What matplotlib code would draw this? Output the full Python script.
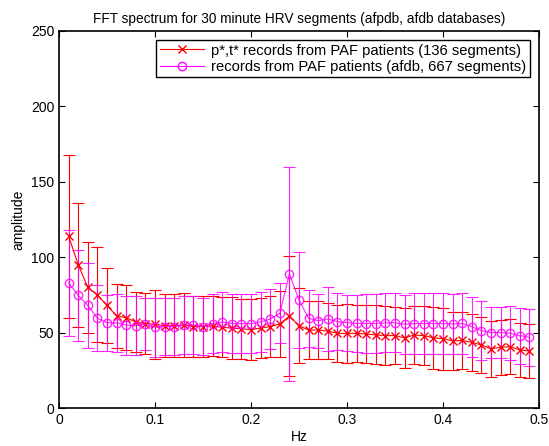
import numpy as np
import matplotlib
matplotlib.use('Agg')
import matplotlib.pyplot as plt
from matplotlib.lines import Line2D

plt.rcParams['font.family'] = ['Liberation Sans', 'DejaVu Sans']

freq = [0.01, 0.02, 0.03, 0.04, 0.05, 0.06, 0.07, 0.08, 0.09, 0.10,
        0.11, 0.12, 0.13, 0.14, 0.15, 0.16, 0.17, 0.18, 0.19, 0.20,
        0.21, 0.22, 0.23, 0.24, 0.25, 0.26, 0.27, 0.28, 0.29, 0.30,
        0.31, 0.32, 0.33, 0.34, 0.35, 0.36, 0.37, 0.38, 0.39, 0.40,
        0.41, 0.42, 0.43, 0.44, 0.45, 0.46, 0.47, 0.48, 0.49]

# p*,t* records (afpdb)
paf_mean = [114, 95, 80, 75, 68, 61, 60, 57, 56, 55.5,
            54.5, 54.5, 55, 54, 54, 54.5, 53.5, 53, 52.5, 52,
            53, 54, 55.7, 61, 54.6, 51.7, 51.7, 51, 49.5, 49.5,
            49.5, 49, 48.5, 48, 48, 46.5, 48.4, 48, 46.5, 46,
            44.5, 44.8, 43.5, 41.8, 39.3, 40.2, 40.7, 38.5, 37.8]
paf_err = [54, 41, 30, 31.5, 24.6, 21.4, 21.7, 20, 20, 22.8,
           21, 21, 21, 20, 20, 20, 20, 20.5, 20, 20,
           20, 20, 22, 40, 25, 19.5, 19, 18.5, 19, 19.5,
           19, 19, 19.5, 19.5, 19, 20, 19.5, 19.5, 20.5, 20.5,
           19, 19, 19, 18.5, 18.5, 18, 18, 18, 18]

# afdb records
afdb_mean = [83, 74.7, 68, 59.5, 56.6, 56.4, 55, 54.6, 55.7, 53.5,
             54, 54, 55, 55, 54, 56, 57, 56, 56, 56,
             57, 59, 62.8, 88.9, 71.6, 59.5, 57.9, 59, 57.2, 56.6,
             56.1, 56, 56, 56.5, 56.5, 55.5, 56, 56, 56, 56,
             55.7, 56.1, 53.9, 51.3, 50, 50, 49.5, 48, 46.9]
afdb_err = [35, 30, 28, 22, 18.5, 19, 19.6, 19.6, 17, 19.5,
            19, 19, 19.5, 19, 19, 19.5, 20, 19.5, 19.5, 19.5,
            20, 20, 20, 71, 32, 19, 18, 21, 19, 18.5,
            19, 19.5, 19.5, 19.5, 19.5, 19.5, 20, 20, 20, 20,
            20, 20, 20, 19.5, 17, 17, 18, 18.5, 19]

labels = ['p*,t* records from PAF patients (136 segments)',
          'records from PAF patients (afdb, 667 segments)']

fig = plt.figure(figsize=(5.49, 4.46), dpi=100)
ax = fig.add_axes([0.1075, 0.0852, 0.8743, 0.8453])

ax.errorbar(freq, paf_mean, yerr=paf_err, color='#ff0000', marker='x',
            markersize=5.5, linewidth=0.8, elinewidth=0.8, capsize=4,
            capthick=0.8)
ax.errorbar(freq, afdb_mean, yerr=afdb_err, color='#ff00ff', marker='o',
            markersize=6, markerfacecolor='none', linewidth=0.8,
            elinewidth=0.8, capsize=4, capthick=0.8, alpha=0.85)

ax.set_xlim(0, 0.5)
ax.set_ylim(0, 250)
ax.set_xticks([0, 0.1, 0.2, 0.3, 0.4, 0.5])
ax.set_xticklabels(['0', '0.1', '0.2', '0.3', '0.4', '0.5'])
ax.set_yticks([0, 50, 100, 150, 200, 250])
ax.tick_params(direction='in', top=True, right=True, labelsize=10, length=4)
for s in ax.spines.values():
    s.set_linewidth(1.2)

ax.set_xlabel('Hz', fontsize=10, labelpad=2)
ax.set_ylabel('amplitude', fontsize=10)
ax.set_title('FFT spectrum for 30 minute HRV segments (afpdb, afdb databases)',
             fontsize=9.8, pad=6)

handles = [Line2D([], [], color='#ff0000', marker='x', markersize=5.5, linewidth=0.8),
           Line2D([], [], color='#ff00ff', marker='o', markersize=6,
                  markerfacecolor='none', linewidth=0.8)]
leg = ax.legend(handles, labels, loc='upper right', fontsize=10.6,
                fancybox=False, framealpha=1, edgecolor='black',
                borderaxespad=0.6, handlelength=3.0, handletextpad=0.5,
                borderpad=0.25, labelspacing=0.15)
leg.get_frame().set_linewidth(1.0)

fig.savefig('out.png', dpi=100)
